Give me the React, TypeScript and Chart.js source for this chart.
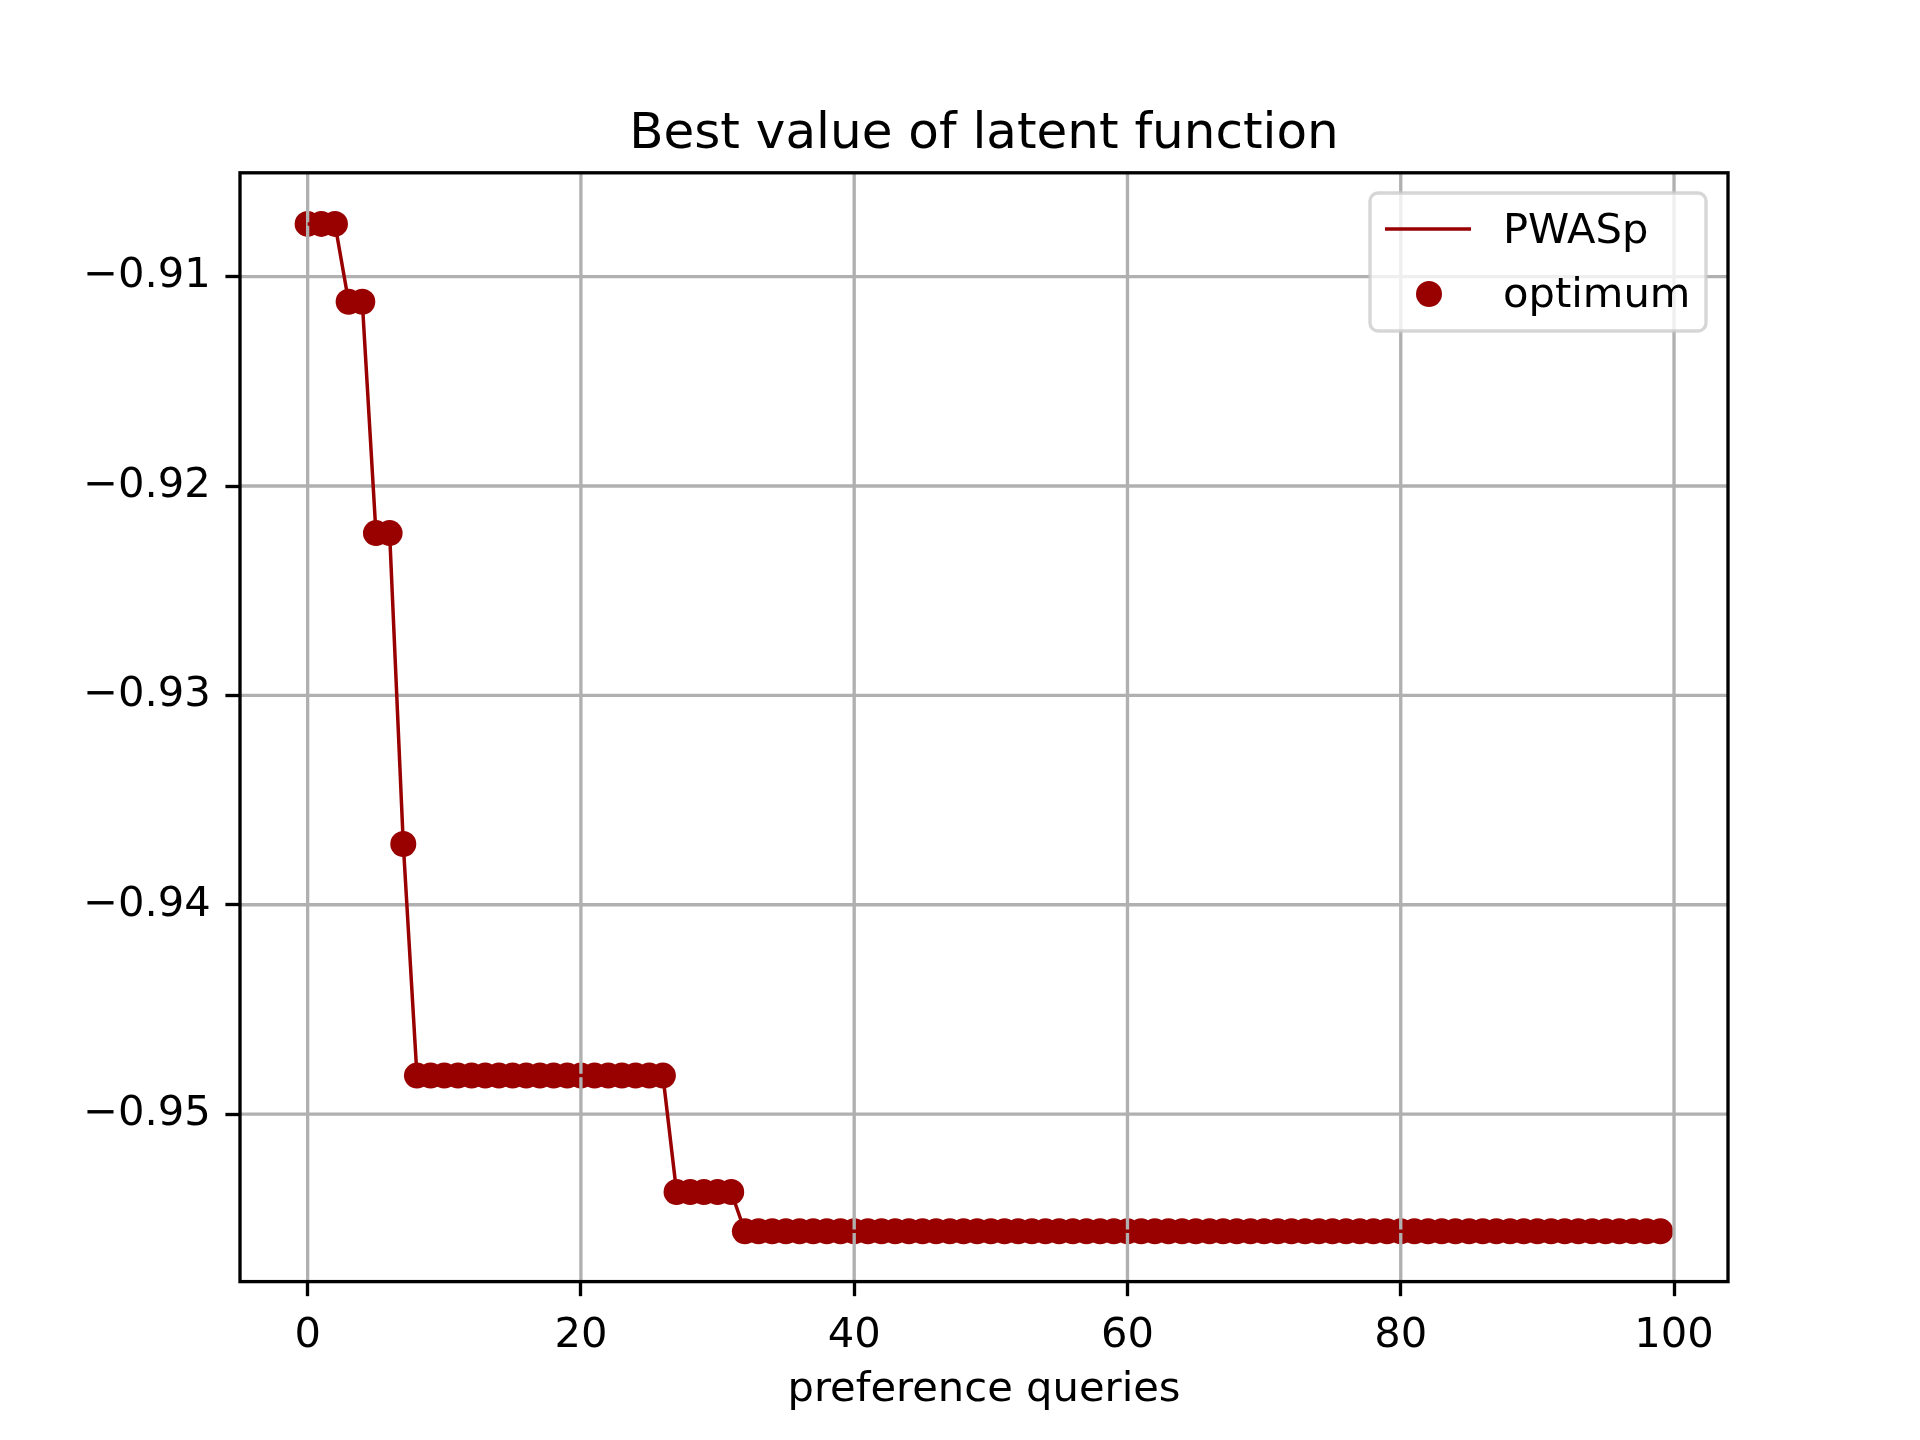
import React, { useEffect, useRef } from 'react';
import { Chart, registerables } from 'chart.js';

Chart.register(...registerables);

const FONT = "'DejaVu Sans', 'Liberation Sans', sans-serif";
const TITLE = 'Best value of latent function';
const X_LABEL = 'preference queries';
const LINE_LABEL = 'PWASp';
const POINT_LABEL = 'optimum';
const COLOR = '#990000';

const X_TICKS = [0, 20, 40, 60, 80, 100];
const Y_TICKS = [-0.95, -0.94, -0.93, -0.92, -0.91];

// best value of latent function after each preference query (index = query number)
const BEST_VALUES = [
  -0.90748, -0.90748, -0.90748, -0.91120, -0.91120, -0.92225, -0.92225, -0.93710, -0.94816, -0.94816,
  -0.94816, -0.94816, -0.94816, -0.94816, -0.94816, -0.94816, -0.94816, -0.94816, -0.94816, -0.94816,
  -0.94816, -0.94816, -0.94816, -0.94816, -0.94816, -0.94816, -0.94816, -0.95372, -0.95372, -0.95372,
  -0.95372, -0.95372, -0.95560, -0.95560, -0.95560, -0.95560, -0.95560, -0.95560, -0.95560, -0.95560,
  -0.95560, -0.95560, -0.95560, -0.95560, -0.95560, -0.95560, -0.95560, -0.95560, -0.95560, -0.95560,
  -0.95560, -0.95560, -0.95560, -0.95560, -0.95560, -0.95560, -0.95560, -0.95560, -0.95560, -0.95560,
  -0.95560, -0.95560, -0.95560, -0.95560, -0.95560, -0.95560, -0.95560, -0.95560, -0.95560, -0.95560,
  -0.95560, -0.95560, -0.95560, -0.95560, -0.95560, -0.95560, -0.95560, -0.95560, -0.95560, -0.95560,
  -0.95560, -0.95560, -0.95560, -0.95560, -0.95560, -0.95560, -0.95560, -0.95560, -0.95560, -0.95560,
  -0.95560, -0.95560, -0.95560, -0.95560, -0.95560, -0.95560, -0.95560, -0.95560, -0.95560, -0.95560,
];

const W = 1920;
const H = 1440;
const AX_LEFT = 240;
const AX_RIGHT = 1728;
const AX_TOP = 172.8;
const AX_BOTTOM = 1281.6;
const PT = 300 / 72;
const TICK_FONT = 10 * PT;
const TITLE_FONT = 12 * PT;

const fmt = (v: number) => (v < 0 ? '\u2212' : '') + Math.abs(v).toFixed(2);

const gridPlugin = {
  id: 'mplGrid',
  afterDatasetDraw(chart: any, args: any) {
    if (args.index !== 1) return;
    const { ctx, chartArea } = chart;
    const xs = chart.scales.x;
    const ys = chart.scales.y;
    ctx.save();
    ctx.beginPath();
    ctx.rect(chartArea.left, chartArea.top, chartArea.right - chartArea.left, chartArea.bottom - chartArea.top);
    ctx.clip();
    ctx.strokeStyle = '#b0b0b0';
    ctx.lineWidth = 0.8 * PT;
    X_TICKS.forEach((v) => {
      const px = xs.getPixelForValue(v);
      ctx.beginPath();
      ctx.moveTo(px, chartArea.top);
      ctx.lineTo(px, chartArea.bottom);
      ctx.stroke();
    });
    Y_TICKS.forEach((v) => {
      const py = ys.getPixelForValue(v);
      ctx.beginPath();
      ctx.moveTo(chartArea.left, py);
      ctx.lineTo(chartArea.right, py);
      ctx.stroke();
    });
    ctx.restore();
  },
};

const framePlugin = {
  id: 'mplFrame',
  afterDatasetsDraw(chart: any) {
    const { ctx, chartArea } = chart;
    ctx.save();
    ctx.strokeStyle = '#000';
    ctx.lineWidth = 0.8 * PT;
    ctx.lineJoin = 'miter';
    ctx.strokeRect(chartArea.left, chartArea.top, chartArea.right - chartArea.left, chartArea.bottom - chartArea.top);
    ctx.restore();
  },
};

const textPlugin = {
  id: 'mplText',
  afterDraw(chart: any) {
    const { ctx, chartArea } = chart;
    ctx.save();
    ctx.fillStyle = '#000';
    ctx.textAlign = 'center';
    ctx.textBaseline = 'alphabetic';
    ctx.font = `${TITLE_FONT}px ${FONT}`;
    ctx.fillText(TITLE, (chartArea.left + chartArea.right) / 2, 148);
    ctx.font = `${TICK_FONT}px ${FONT}`;
    ctx.fillText(X_LABEL, (chartArea.left + chartArea.right) / 2, 1401);

    // legend
    const bx = 1370, by = 193, bw = 336, bh = 138, r = 8;
    ctx.beginPath();
    ctx.moveTo(bx + r, by);
    ctx.lineTo(bx + bw - r, by);
    ctx.arcTo(bx + bw, by, bx + bw, by + r, r);
    ctx.lineTo(bx + bw, by + bh - r);
    ctx.arcTo(bx + bw, by + bh, bx + bw - r, by + bh, r);
    ctx.lineTo(bx + r, by + bh);
    ctx.arcTo(bx, by + bh, bx, by + bh - r, r);
    ctx.lineTo(bx, by + r);
    ctx.arcTo(bx, by, bx + r, by, r);
    ctx.closePath();
    ctx.fillStyle = 'rgba(255,255,255,0.8)';
    ctx.fill();
    ctx.strokeStyle = 'rgba(204,204,204,0.8)';
    ctx.lineWidth = 0.8 * PT;
    ctx.stroke();

    ctx.strokeStyle = COLOR;
    ctx.lineWidth = 3.5;
    ctx.beginPath();
    ctx.moveTo(1385, 229);
    ctx.lineTo(1471, 229);
    ctx.stroke();

    ctx.fillStyle = COLOR;
    ctx.beginPath();
    ctx.arc(1429, 294, 13, 0, Math.PI * 2);
    ctx.fill();

    ctx.fillStyle = '#000';
    ctx.textAlign = 'left';
    ctx.font = `${TICK_FONT}px ${FONT}`;
    ctx.fillText(LINE_LABEL, 1503, 243);
    ctx.fillText(POINT_LABEL, 1503, 307);
    ctx.restore();
  },
};

export default function App() {
  const ref = useRef<HTMLCanvasElement | null>(null);

  useEffect(() => {
    if (!ref.current) return;
    const points = BEST_VALUES.map((y, i) => ({ x: i, y }));
    const chart = new Chart(ref.current, {
      type: 'scatter',
      data: {
        datasets: [
          {
            label: LINE_LABEL,
            data: points,
            showLine: true,
            borderColor: COLOR,
            borderWidth: 3.5,
            pointRadius: 0,
            pointHoverRadius: 0,
            order: 0,
          },
          {
            label: POINT_LABEL,
            data: points,
            showLine: false,
            backgroundColor: COLOR,
            borderWidth: 0,
            pointRadius: 13,
            pointHoverRadius: 13,
            order: 1,
          },
        ],
      },
      options: {
        responsive: false,
        animation: false,
        events: [],
        layout: { padding: { top: AX_TOP, right: W - AX_RIGHT, left: 0, bottom: 0 } },
        plugins: {
          legend: { display: false },
          title: { display: false },
          tooltip: { enabled: false },
        },
        scales: {
          x: {
            type: 'linear',
            min: -4.95,
            max: 103.95,
            afterFit: (s: any) => {
              s.height = H - AX_BOTTOM;
            },
            afterBuildTicks: (s: any) => {
              s.ticks = X_TICKS.map((v) => ({ value: v }));
            },
            ticks: {
              color: '#000',
              font: { family: FONT, size: TICK_FONT },
              padding: 3.5 * PT,
              maxRotation: 0,
              autoSkip: false,
              callback: (v: any) => String(v),
            },
            grid: {
              drawOnChartArea: false,
              drawTicks: true,
              tickLength: 3.5 * PT,
              tickColor: '#000',
              tickWidth: 0.8 * PT,
            },
            border: { display: false },
          },
          y: {
            type: 'linear',
            min: -0.958,
            max: -0.90504,
            afterFit: (s: any) => {
              s.width = AX_LEFT;
            },
            afterBuildTicks: (s: any) => {
              s.ticks = Y_TICKS.map((v) => ({ value: v }));
            },
            ticks: {
              color: '#000',
              font: { family: FONT, size: TICK_FONT },
              padding: 3.5 * PT,
              autoSkip: false,
              callback: (v: any) => fmt(Number(v)),
            },
            grid: {
              drawOnChartArea: false,
              drawTicks: true,
              tickLength: 3.5 * PT,
              tickColor: '#000',
              tickWidth: 0.8 * PT,
            },
            border: { display: false },
          },
        },
      },
      plugins: [gridPlugin, framePlugin, textPlugin],
    } as any);
    return () => chart.destroy();
  }, []);

  return (
    <div style={{ position: 'absolute', left: 0, top: 0, width: W, height: H, background: '#fff' }}>
      <canvas ref={ref} width={W} height={H} style={{ display: 'block', width: W, height: H }} />
    </div>
  );
}
